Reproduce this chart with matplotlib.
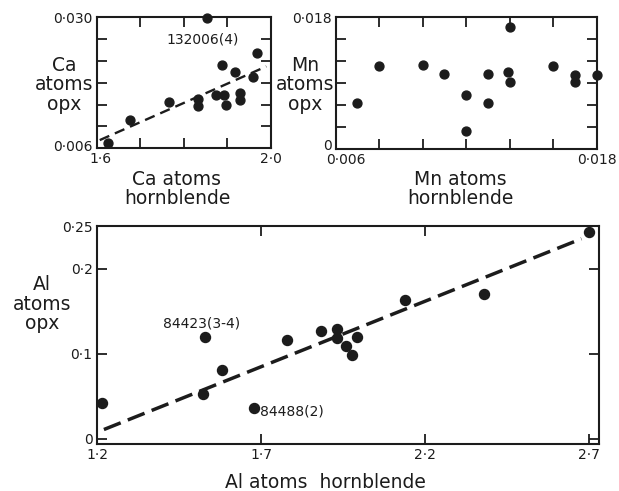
import matplotlib
matplotlib.use("Agg")
import matplotlib.pyplot as plt
from matplotlib.transforms import ScaledTranslation

plt.rcParams['font.family'] = ['DejaVu Sans']

INK = '#1c1c1c'

# Ca atoms: hornblende vs orthopyroxene
ca_hbl = [1.626, 1.676, 1.766, 1.834, 1.834, 1.854, 1.874, 1.892,
          1.887, 1.897, 1.917, 1.929, 1.929, 1.959, 1.969]
ca_opx = [0.0069, 0.0111, 0.0145, 0.0150, 0.0138, 0.0299, 0.0158, 0.0158,
          0.0212, 0.0140, 0.0200, 0.0161, 0.0149, 0.0190, 0.0235]
ca_fit_x = [1.607, 1.990]
ca_fit_y = [0.0075, 0.0210]

# Mn atoms
mn_hbl = [0.007, 0.008, 0.010, 0.011, 0.012, 0.012, 0.013, 0.013,
          0.0139, 0.014, 0.014, 0.016, 0.017, 0.017, 0.018]
mn_opx = [0.0063, 0.0113, 0.0115, 0.0103, 0.0074, 0.0024, 0.0102, 0.0063,
          0.0105, 0.0092, 0.0167, 0.0114, 0.0101, 0.0092, 0.0101]

# Al atoms
al_hbl = [1.215, 1.528, 1.524, 1.580, 1.677, 1.778, 1.883, 1.933,
          1.933, 1.958, 1.976, 1.993, 2.138, 2.379, 2.700]
al_opx = [0.042, 0.120, 0.053, 0.081, 0.036, 0.116, 0.127, 0.129,
          0.119, 0.109, 0.098, 0.120, 0.163, 0.170, 0.243]
al_fit_x = [1.22, 2.678]
al_fit_y = [0.011, 0.235]

W, H = 619, 491
fig = plt.figure(figsize=(W / 100, H / 100), dpi=100)


def px_axes(l, t, r, b):
    return fig.add_axes([l / W, 1 - b / H, (r - l) / W, (b - t) / H])


def style(ax):
    for s in ax.spines.values():
        s.set_linewidth(1.5)
        s.set_color(INK)
    ax.tick_params(direction='in', length=7, width=1.3, top=True, right=True,
                   labelsize=10, pad=3, colors=INK)


def nudge(label, dx, dy):
    # shift a tick label by a few pixels
    label.set_transform(label.get_transform() +
                        ScaledTranslation(dx / 100, dy / 100, fig.dpi_scale_trans))


def ptext(x, y, s, **kw):
    fig.text(x / W, 1 - y / H, s, ha='center', va='center', color=INK,
             fontsize=13.5, linespacing=1.05, multialignment='center', **kw)


# top left: Ca
ax1 = px_axes(96.7, 17.3, 270.7, 148.3)
style(ax1)
ax1.plot(ca_hbl, ca_opx, 'o', color=INK, ms=6.4, clip_on=False, zorder=3)
ax1.plot(ca_fit_x, ca_fit_y, color=INK, lw=1.7, dashes=(4.4, 2.6))
ax1.set_xlim(1.6, 2.0)
ax1.set_ylim(0.006, 0.030)
ax1.set_xticks([1.6, 1.7, 1.8, 1.9, 2.0], ['1·6', '', '', '', '2·0'])
ax1.set_yticks([0.006, 0.010, 0.014, 0.018, 0.022, 0.026, 0.030],
               ['0·006', '', '', '', '', '', '0·030'])
ax1.text(1.843, 0.026, '132006(4)', ha='center', va='center', fontsize=10,
         color=INK)

# top right: Mn
ax2 = px_axes(335.7, 17.3, 596.7, 149)
style(ax2)
ax2.plot(mn_hbl, mn_opx, 'o', color=INK, ms=6.4, clip_on=False, zorder=3)
ax2.set_xlim(0.006, 0.018)
ax2.set_ylim(0, 0.018)
ax2.set_xticks([0.006, 0.008, 0.010, 0.012, 0.014, 0.016, 0.018],
               ['0·006', '', '', '', '', '', '0·018'])
ax2.set_yticks([0, 0.003, 0.006, 0.009, 0.012, 0.015, 0.018],
               ['0', '', '', '', '', '', '0·018'])

# bottom: Al
ax3 = px_axes(96.7, 226, 598.5, 444)
style(ax3)
ax3.plot(al_hbl, al_opx, 'o', color=INK, ms=7.2, clip_on=False, zorder=3)
ax3.plot(al_fit_x, al_fit_y, color=INK, lw=2.5, dashes=(5.2, 2.2))
ax3.set_xlim(1.198, 2.73)
ax3.set_ylim(-0.006, 0.25)
ax3.set_xticks([1.2, 1.7, 2.2, 2.7], ['1·2', '1·7', '2·2', '2·7'])
ax3.set_yticks([0, 0.1, 0.2, 0.25], ['0', '0·1', '0·2', '0·25'])
ax3.text(1.518, 0.135, '84423(3-4)', ha='center', va='center', fontsize=10,
         color=INK)
ax3.text(1.698, 0.0316, '84488(2)', ha='left', va='center', fontsize=10,
         color=INK)

# corner labels sit a little off their ticks
nudge(ax1.get_xticklabels()[0], 4, 0)
nudge(ax1.get_yticklabels()[0], 0, 3)
nudge(ax2.get_xticklabels()[0], 10, 0)
nudge(ax2.get_yticklabels()[0], 0, 5)

# axis titles
ptext(64, 85, 'Ca\natoms\nopx')
ptext(177, 189, 'Ca atoms\nhornblende')
ptext(305, 85, 'Mn\natoms\nopx')
ptext(460, 189, 'Mn atoms\nhornblende')
ptext(42, 304, 'Al\natoms\nopx')
ptext(325, 483, 'Al atoms  hornblende')

fig.savefig('out.png', dpi=100, facecolor='white')
